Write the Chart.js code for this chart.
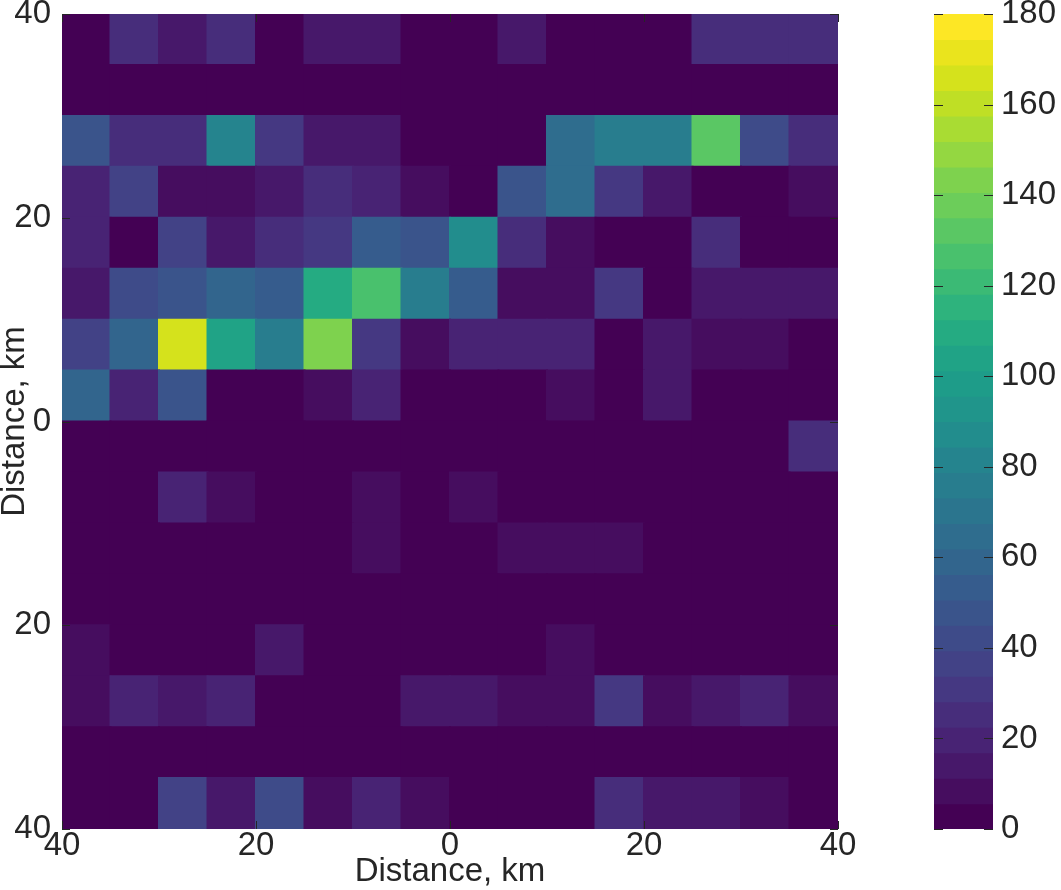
<!DOCTYPE html>
<html>
<head>
<meta charset="utf-8">
<script src="https://cdn.jsdelivr.net/npm/chart.js@4.4.1/dist/chart.umd.min.js"></script>
<style>
    html, body { margin: 0; padding: 0; background: #fff; }
    #wrap { position: relative; width: 1061px; height: 890px; }
    #mapCanvas { position: absolute; left: 0; top: 0; }
    #barCanvas { position: absolute; left: 934px; top: 0; }
</style>
</head>
<body>
<div id="wrap">
    <canvas id="mapCanvas" width="1061" height="890"></canvas>
    <canvas id="barCanvas" width="127" height="890"></canvas>
</div>
<script>
// Bin centres in km (5 km bins), rows listed from top (north) to bottom
const xCenters = [-37.5, -32.5, -27.5, -22.5, -17.5, -12.5, -7.5, -2.5, 2.5, 7.5, 12.5, 17.5, 22.5, 27.5, 32.5, 37.5];
const yCenters = [37.5, 32.5, 27.5, 22.5, 17.5, 12.5, 7.5, 2.5, -2.5, -7.5, -12.5, -17.5, -22.5, -27.5, -32.5, -37.5];
const binHalf = 2.5;

// counts per cell, one row per yCenters entry
const counts = [
    [0, 25, 14, 26, 0, 14, 14, 0, 0, 14, 0, 0, 0, 25, 25, 25],
    [0, 0, 0, 0, 0, 0, 0, 0, 0, 0, 0, 0, 0, 0, 0, 0],
    [46, 25, 25, 81, 33, 14, 14, 0, 0, 0, 66, 76, 76, 132, 42, 24],
    [20, 34, 8, 8, 14, 27, 22, 8, 0, 50, 66, 33, 14, 0, 0, 8],
    [20, 0, 36, 14, 27, 33, 53, 48, 87, 26, 8, 0, 0, 28, 0, 0],
    [14, 42, 48, 58, 51, 110, 126, 76, 52, 8, 8, 33, 0, 14, 14, 14],
    [34, 61, 165, 104, 76, 143, 33, 8, 22, 22, 22, 0, 14, 10, 10, 0],
    [61, 22, 48, 0, 0, 8, 20, 0, 0, 0, 8, 0, 14, 0, 0, 0],
    [0, 0, 0, 0, 0, 0, 0, 0, 0, 0, 0, 0, 0, 0, 0, 28],
    [0, 0, 22, 10, 0, 0, 10, 0, 10, 0, 0, 0, 0, 0, 0, 0],
    [0, 0, 0, 0, 0, 0, 10, 0, 0, 10, 10, 10, 0, 0, 0, 0],
    [0, 0, 0, 0, 0, 0, 0, 0, 0, 0, 0, 0, 0, 0, 0, 0],
    [10, 0, 0, 0, 15, 0, 0, 0, 0, 0, 10, 0, 0, 0, 0, 0],
    [10, 22, 14, 22, 0, 0, 0, 14, 15, 10, 10, 31, 10, 14, 22, 10],
    [0, 0, 0, 0, 0, 0, 0, 0, 0, 0, 0, 0, 0, 0, 0, 0],
    [0, 0, 34, 15, 40, 10, 22, 10, 0, 0, 0, 26, 16, 16, 10, 0]
];

const axisMin = -40;
const axisMax = 40;
const axisStep = 20;
const colorMin = 0;
const colorMax = 180;
const colorStep = 20;
const nLevels = 32;

// viridis stops at 0, 0.05, ... 1
const viridisStops = [
    '#440154', '#471365', '#482475', '#463480', '#414487', '#3b528b', '#355f8d',
    '#2f6c8e', '#2a788e', '#25848e', '#21918c', '#1e9c89', '#22a884', '#2fb47c',
    '#44bf70', '#5ec962', '#7ad151', '#9bd93c', '#bddf26', '#dfe318', '#fde725'
];

const textColor = '#262626';
const fontFamily = "'Liberation Sans', Arial, Helvetica, sans-serif";
const bigFont = { family: fontFamily, size: 33, lineHeight: 1 };

function hexToRgb(h) {
    return [parseInt(h.slice(1, 3), 16), parseInt(h.slice(3, 5), 16), parseInt(h.slice(5, 7), 16)];
}

function viridis(t) {
    t = Math.max(0, Math.min(1, t));
    const pos = t * (viridisStops.length - 1);
    const i = Math.min(Math.floor(pos), viridisStops.length - 2);
    const f = pos - i;
    const a = hexToRgb(viridisStops[i]);
    const b = hexToRgb(viridisStops[i + 1]);
    const c = a.map((v, k) => Math.round(v + (b[k] - v) * f));
    return `rgb(${c[0]}, ${c[1]}, ${c[2]})`;
}

// quantised colormap, like colormap(viridis(32))
function levelOf(v) {
    const k = Math.floor((v - colorMin) / (colorMax - colorMin) * nLevels);
    return Math.max(0, Math.min(nLevels - 1, k));
}

function levelColor(v) {
    return viridis(levelOf(v) / (nLevels - 1));
}

// small inward tick marks on every side of the plot box
const tickMarks = {
    id: 'tickMarks',
    afterDatasetsDraw(chart, args, opts) {
        const { ctx, chartArea: area } = chart;
        const len = opts.length || 8;
        ctx.save();
        ctx.strokeStyle = opts.color || textColor;
        ctx.lineWidth = 1;
        ctx.beginPath();
        Object.values(chart.scales).forEach(scale => {
            if (!scale.options.display) return;
            scale.ticks.forEach(t => {
                const p = Math.round(scale.getPixelForValue(t.value)) + 0.5;
                if (scale.isHorizontal()) {
                    ctx.moveTo(p, area.bottom); ctx.lineTo(p, area.bottom - len);
                    ctx.moveTo(p, area.top); ctx.lineTo(p, area.top + len);
                } else {
                    ctx.moveTo(area.left, p); ctx.lineTo(area.left + len, p);
                    ctx.moveTo(area.right, p); ctx.lineTo(area.right - len, p);
                }
            });
        });
        ctx.stroke();
        ctx.restore();
    }
};

// heat map cells as floating bars
const cells = [];
counts.forEach((row, i) => {
    row.forEach((v, j) => {
        cells.push({ x: xCenters[j], y: [yCenters[i] - binHalf, yCenters[i] + binHalf], v: v });
    });
});

new Chart(document.getElementById('mapCanvas'), {
    type: 'bar',
    data: {
        datasets: [{
            data: cells,
            backgroundColor: c => levelColor(c.raw.v),
            borderWidth: 0,
            borderSkipped: false,
            inflateAmount: 1,
            barPercentage: 1,
            categoryPercentage: 1,
            grouped: false
        }]
    },
    options: {
        responsive: false,
        animation: false,
        layout: { padding: { top: 14, right: 223, bottom: 0, left: 0 } },
        plugins: {
            legend: { display: false },
            tooltip: { enabled: false },
            tickMarks: { length: 8, color: textColor }
        },
        scales: {
            x: {
                type: 'linear',
                min: axisMin,
                max: axisMax,
                offset: false,
                grid: { display: false, drawTicks: false },
                border: { display: false },
                ticks: {
                    stepSize: axisStep,
                    autoSkip: false,
                    maxRotation: 0,
                    padding: 0,
                    color: textColor,
                    font: bigFont,
                    callback: v => Math.abs(v)
                },
                title: {
                    display: true,
                    text: 'Distance, km',
                    color: textColor,
                    font: bigFont,
                    padding: { top: 0, bottom: 2 }
                },
                afterFit: s => { s.height = 61; s.paddingLeft = 0; s.paddingRight = 0; }
            },
            y: {
                type: 'linear',
                min: axisMin,
                max: axisMax,
                grid: { display: false, drawTicks: false },
                border: { display: false },
                ticks: {
                    stepSize: axisStep,
                    autoSkip: false,
                    padding: 11,
                    color: textColor,
                    font: bigFont,
                    callback: v => Math.abs(v)
                },
                title: {
                    display: true,
                    text: 'Distance, km',
                    color: textColor,
                    font: bigFont,
                    padding: { top: -2, bottom: 0 }
                },
                afterFit: s => { s.width = 62; s.paddingTop = 0; s.paddingBottom = 0; }
            }
        }
    },
    plugins: [tickMarks]
});

// colour bar: one band per colormap level
const bands = [];
for (let k = 0; k < nLevels; k++) {
    const lo = colorMin + (colorMax - colorMin) * k / nLevels;
    const hi = colorMin + (colorMax - colorMin) * (k + 1) / nLevels;
    bands.push({ x: 'bar', y: [lo, hi], k: k });
}

new Chart(document.getElementById('barCanvas'), {
    type: 'bar',
    data: {
        labels: ['bar'],
        datasets: [{
            data: bands,
            backgroundColor: c => viridis(c.raw.k / (nLevels - 1)),
            borderWidth: 0,
            borderSkipped: false,
            inflateAmount: 0.6,
            barPercentage: 1,
            categoryPercentage: 1,
            grouped: false
        }]
    },
    options: {
        responsive: false,
        animation: false,
        layout: { padding: { top: 14, right: 0, bottom: 61, left: 0 } },
        plugins: {
            legend: { display: false },
            tooltip: { enabled: false },
            tickMarks: { length: 9, color: textColor }
        },
        scales: {
            x: { display: false },
            y: {
                position: 'right',
                min: colorMin,
                max: colorMax,
                grid: { display: false, drawTicks: false },
                border: { display: false },
                ticks: {
                    stepSize: colorStep,
                    autoSkip: false,
                    padding: 8,
                    color: textColor,
                    font: bigFont
                },
                afterFit: s => { s.width = 68; s.paddingTop = 0; s.paddingBottom = 0; }
            }
        }
    },
    plugins: [tickMarks]
});
</script>
</body>
</html>
